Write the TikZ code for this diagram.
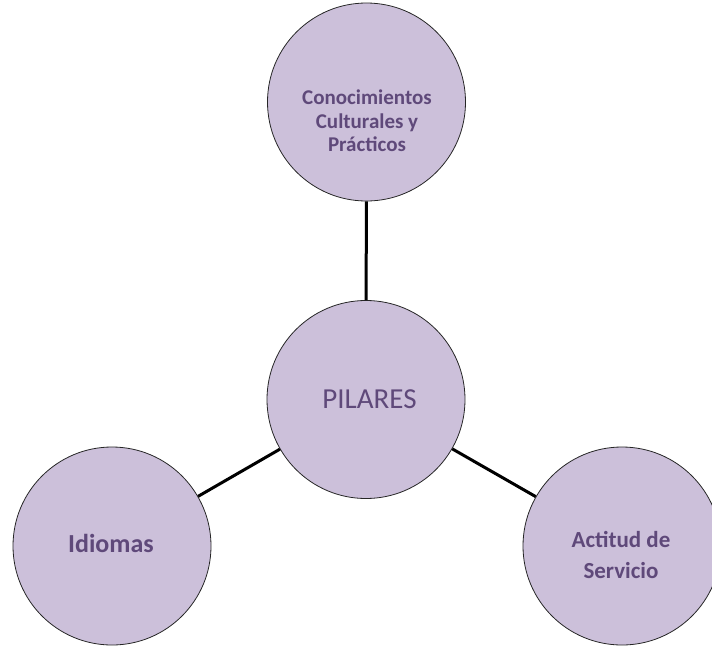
\documentclass[tikz,border=0pt]{standalone}
\usepackage{fontspec}
\setmainfont{Carlito}
\definecolor{lav}{HTML}{CCC0DA}
\definecolor{txt}{HTML}{5F497A}
\begin{document}
\begin{tikzpicture}[x=1pt,y=-1pt,
  pil/.style={circle,draw=black!85,line width=0.8pt,fill=lav,minimum size=198pt,inner sep=0pt},
  lbl/.style={text=txt,align=center,inner sep=0pt,font=\bfseries\fontsize{21}{23.5}\selectfont},
  link/.style={line width=3pt,black}]
\useasboundingbox (0,0) rectangle (712,648);
\node[pil] (top) at (366.5,102) {};
\node[pil] (mid) at (366,399.5) {};
\node[pil] (left) at (112,546) {};
\node[pil] (right) at (622,546) {};
\draw[link] (top) -- (mid);
\draw[link] (mid) -- (left);
\draw[link] (mid) -- (right);
\node[lbl] (topt) at (367,121) {Conocimientos\\Culturales y\\Prácticos};
\node[text=txt,inner sep=0pt,font=\fontsize{29}{32}\selectfont] (midt) at (369.5,399) {PILARES};
\node[lbl,font=\bfseries\fontsize{26}{28}\selectfont] (leftt) at (111,543) {Idiomas};
\node[lbl,font=\bfseries\fontsize{23}{31}\selectfont] (rightt) at (621,555) {Actitud de\\Servicio};
\end{tikzpicture}
\end{document}
